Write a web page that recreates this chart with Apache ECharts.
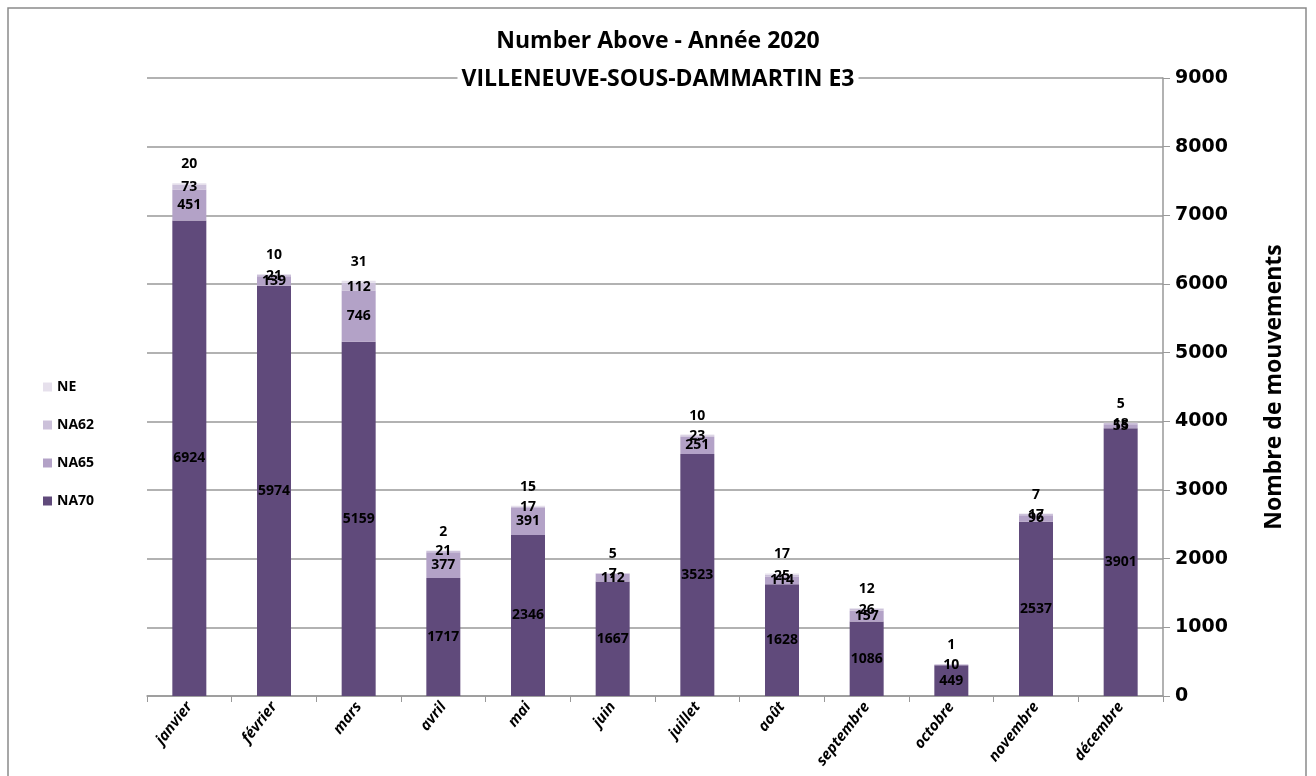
<!DOCTYPE html>
<html><head><meta charset="utf-8">
<script src="https://cdn.jsdelivr.net/npm/echarts@6/dist/echarts.min.js"></script>
<style>html,body{margin:0;padding:0;background:#fff}#c{width:1316px;height:776px}</style>
</head><body><div id="c"></div>
<script>
const months = ['janvier','février','mars','avril','mai','juin','juillet','août','septembre','octobre','novembre','décembre'];
const NA70 = [6924,5974,5159,1717,2346,1667,3523,1628,1086,449,2537,3901];
const NA65 = [451,139,746,377,391,112,251,114,157,10,96,55];
const NA62 = [73,21,112,21,17,7,23,25,26,0,17,18];
const NE = [20,10,31,2,15,5,10,17,12,1,7,5];
const yTicks = [0,1000,2000,3000,4000,5000,6000,7000,8000,9000];

const font = '"Open Sans", "Liberation Sans", sans-serif';
const lbl = (pos, extra) => Object.assign({
  show: true, position: pos, color: '#000', fontWeight: 'bold', fontSize: 14, fontFamily: font,
  formatter: p => p.value === 0 ? '' : p.value
}, extra || {});

const chart = echarts.init(document.getElementById('c'));
chart.setOption({
  animation: false,
  graphic: [{type:'rect', shape:{x:8,y:8,width:1298,height:790}, style:{fill:'none', stroke:'#8a8a8a', lineWidth:1.5}, z:-1}],
  title: [
    {text:'Number Above - Année 2020', left:'center', top:25, textStyle:{fontFamily:font, fontWeight:'bold', fontSize:23, color:'#000'}},
    {text:'VILLENEUVE-SOUS-DAMMARTIN E3', left:'center', top:67, backgroundColor:'#fff', padding:[1,4], textStyle:{fontFamily:font, fontWeight:'bold', fontSize:23, color:'#000'}}
  ],
  legend: {
    orient:'vertical', left:38, top:375, itemGap:24, itemWidth:9, itemHeight:9, icon:'rect',
    data:['NE','NA62','NA65','NA70'],
    textStyle:{fontFamily:font, fontWeight:'bold', fontSize:14, color:'#000'}
  },
  grid: {left:147, right:153, top:78, bottom:80},
  xAxis: {
    type:'category', data: months,
    axisLine:{lineStyle:{color:'#999', width:1.5}},
    axisTick:{show:true, length:6, lineStyle:{color:'#999'}},
    axisLabel:{rotate:52, fontStyle:'italic', fontWeight:'bold', fontSize:15, fontFamily:font, color:'#000', margin:8}
  },
  yAxis: {
    type:'value', position:'right', min:0, max:9000, interval:1000,
    name:'Nombre de mouvements', nameLocation:'middle', nameRotate:90, nameGap:100,
    nameTextStyle:{fontFamily:font, fontWeight:'bold', fontSize:23, color:'#000'},
    axisLine:{show:true, lineStyle:{color:'#999', width:1.5}},
    axisTick:{show:true, length:7, lineStyle:{color:'#999'}},
    splitLine:{lineStyle:{color:'#999', width:1.5}},
    axisLabel:{fontFamily:'"DejaVu Sans", sans-serif', fontWeight:'bold', fontSize:19, color:'#000', margin:12,
      formatter: v => yTicks.includes(v) ? String(v) : ''}
  },
  series: [
    {name:'NA70', type:'bar', stack:'t', barWidth:34, data:NA70, itemStyle:{color:'#604a7b'}, label:lbl('inside')},
    {name:'NA65', type:'bar', stack:'t', data:NA65, itemStyle:{color:'#b3a2c7'}, label:lbl('inside')},
    {name:'NA62', type:'bar', stack:'t', data:NA62, itemStyle:{color:'#ccc1da'}, label:lbl('inside')},
    {name:'NE', type:'bar', stack:'t', data:NE, itemStyle:{color:'#e6e0ec'}, label:lbl('top', {distance:12})}
  ]
});
</script></body></html>
